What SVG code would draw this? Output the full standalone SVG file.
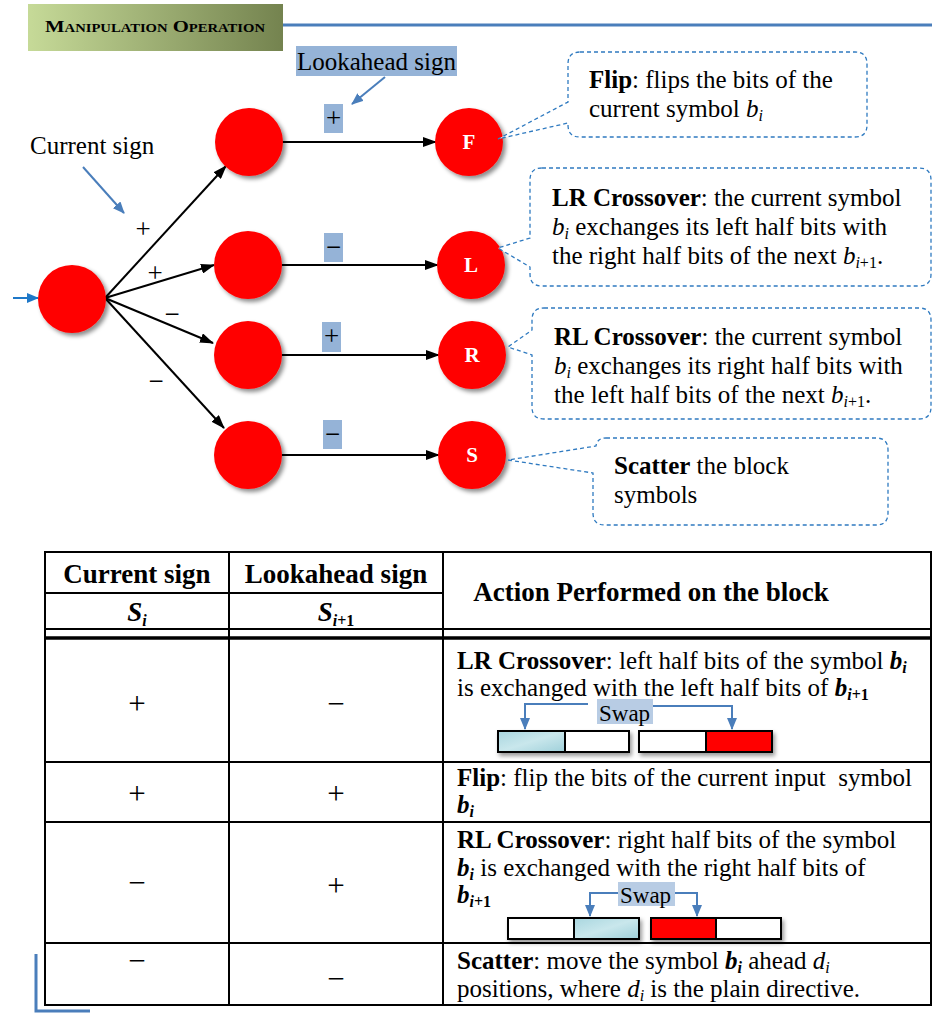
<svg xmlns="http://www.w3.org/2000/svg" width="932" height="1013" viewBox="0 0 932 1013">
  <defs>
    <linearGradient id="hdrGrad" x1="0" y1="0" x2="1" y2="0">
      <stop offset="0" stop-color="#c6da98"/>
      <stop offset="1" stop-color="#74834f"/>
    </linearGradient>
    <linearGradient id="iceGrad" x1="0" y1="0" x2="1" y2="1">
      <stop offset="0" stop-color="#a9d6df"/>
      <stop offset="0.5" stop-color="#c9e7ec"/>
      <stop offset="1" stop-color="#9fd0da"/>
    </linearGradient>
    <filter id="shadow" x="-30%" y="-30%" width="170%" height="170%">
      <feDropShadow dx="3" dy="3" stdDeviation="2.2" flood-color="#000" flood-opacity="0.45"/>
    </filter>
    <filter id="boxShadow" x="-10%" y="-30%" width="130%" height="190%">
      <feDropShadow dx="2" dy="3" stdDeviation="2" flood-color="#000" flood-opacity="0.4"/>
    </filter>
    <marker id="arrowBlack" viewBox="0 0 14 10" refX="13" refY="5" markerWidth="14" markerHeight="10" markerUnits="userSpaceOnUse" orient="auto">
      <path d="M0,0 L14,5 L0,10 Z" fill="#000"/>
    </marker>
    <marker id="arrowBlue" viewBox="0 0 12 10" refX="11" refY="5" markerWidth="12" markerHeight="10" markerUnits="userSpaceOnUse" orient="auto">
      <path d="M0,0 L12,5 L0,10 Z" fill="#4a7ebb"/>
    </marker>
    <marker id="arrowInput" viewBox="0 0 12 10" refX="11" refY="5" markerWidth="12" markerHeight="10" markerUnits="userSpaceOnUse" orient="auto">
      <path d="M0,0 L12,5 L0,10 Z" fill="#1f78c8"/>
    </marker>
  </defs>
  <style>
    .serif { font-family: "Liberation Serif", "Times New Roman", serif; fill: #000; }
    .lbl { font-size: 25px; }
    .sign { font-size: 31px; }
    .body { font-size: 25px; }
    .head { font-size: 27px; }
    .bold { font-weight: bold; }
    .it { font-style: italic; }
    .sub { font-size: 16px; }
    .node { fill: #ff0000; filter: url(#shadow); }
    .nodeTxt { font-family: "Liberation Serif", serif; font-weight: bold; font-size: 21px; fill: #fff; text-anchor: middle; }
    .edge { stroke: #000; stroke-width: 2; fill: none; marker-end: url(#arrowBlack); }
    .hl { fill: #95b3d7; }
    .hlSoft { fill: #b8cce4; }
    .callout { fill: #fff; stroke: #2f7ac0; stroke-width: 1.3; stroke-dasharray: 4 3; }
    .grid { stroke: #000; stroke-width: 2; fill: none; }
    .swapLine { stroke: #4a7ebb; stroke-width: 2; fill: none; marker-end: url(#arrowBlue); }
    .cell { stroke: #000; stroke-width: 2; }
  </style>

  <!-- section header -->
  <g id="header">
    <rect x="28" y="4" width="255" height="47" fill="url(#hdrGrad)"/>
    <text x="45" y="32" class="serif bold" font-size="17" font-variant="small-caps" textLength="220" lengthAdjust="spacingAndGlyphs">Manipulation Operation</text>
    <line x1="283" y1="25" x2="932" y2="25" stroke="#4a7ebb" stroke-width="3"/>
  </g>

  <!-- annotations -->
  <g id="lookahead-label">
    <rect class="hl" x="296" y="46" width="161" height="30"/>
    <text x="297" y="70" class="serif lbl">Lookahead sign</text>
    <line x1="385" y1="77" x2="352" y2="104" stroke="#4a7ebb" stroke-width="2" marker-end="url(#arrowBlue)"/>
  </g>
  <g id="current-label">
    <text x="30" y="154" class="serif lbl">Current sign</text>
    <line x1="83" y1="167" x2="124" y2="213" stroke="#4a7ebb" stroke-width="2" marker-end="url(#arrowBlue)"/>
  </g>

  <!-- connectors -->
  <g id="connectors">
    <line x1="13" y1="298" x2="38" y2="298" stroke="#1f78c8" stroke-width="2" marker-end="url(#arrowInput)"/>
    <line class="edge" x1="105" y1="298" x2="226" y2="166"/>
    <line class="edge" x1="105" y1="298" x2="214" y2="265"/>
    <line class="edge" x1="105" y1="298" x2="213" y2="343"/>
    <line class="edge" x1="105" y1="298" x2="224" y2="428"/>
    <line class="edge" x1="282" y1="142" x2="436" y2="142"/>
    <line class="edge" x1="282" y1="265" x2="438" y2="265"/>
    <line class="edge" x1="282" y1="355" x2="439" y2="355"/>
    <line class="edge" x1="282" y1="455" x2="439" y2="455"/>
  </g>

  <!-- edge sign labels -->
  <g id="edge-labels">
    <text x="143" y="238" class="serif" font-size="27" text-anchor="middle">+</text>
    <text x="155" y="282" class="serif" font-size="27" text-anchor="middle">+</text>
    <text x="172" y="323" class="serif" font-size="27" text-anchor="middle">−</text>
    <text x="156" y="390" class="serif" font-size="27" text-anchor="middle">−</text>
    <rect class="hl" x="324" y="104" width="19" height="29"/>
    <text x="333.5" y="127" class="serif" font-size="27" text-anchor="middle">+</text>
    <rect class="hl" x="324" y="233" width="19" height="29"/>
    <text x="333.5" y="256" class="serif" font-size="27" text-anchor="middle">−</text>
    <rect class="hl" x="322" y="322" width="19" height="30"/>
    <text x="331.5" y="345" class="serif" font-size="27" text-anchor="middle">+</text>
    <rect class="hl" x="323" y="420" width="19" height="29"/>
    <text x="332.5" y="443" class="serif" font-size="27" text-anchor="middle">−</text>
  </g>

  <!-- nodes -->
  <g id="node-source"><circle class="node" cx="72" cy="299" r="34"/></g>
  <g id="node-a"><circle class="node" cx="249" cy="142" r="34"/></g>
  <g id="node-b"><circle class="node" cx="248" cy="265" r="34"/></g>
  <g id="node-c"><circle class="node" cx="248" cy="355" r="34"/></g>
  <g id="node-d"><circle class="node" cx="248" cy="455" r="34"/></g>
  <g id="node-F"><circle class="node" cx="469" cy="142" r="34"/><text class="nodeTxt" x="469" y="149">F</text></g>
  <g id="node-L"><circle class="node" cx="471" cy="265" r="34"/><text class="nodeTxt" x="471" y="272">L</text></g>
  <g id="node-R"><circle class="node" cx="472" cy="355" r="34"/><text class="nodeTxt" x="472" y="362">R</text></g>
  <g id="node-S"><circle class="node" cx="472" cy="455" r="34"/><text class="nodeTxt" x="472" y="462">S</text></g>

  <!-- callouts -->
  <g id="callout-flip">
    <path class="callout" d="M580,52 H855 Q867,52 867,64 V125 Q867,137 855,137 H580 Q568,137 568,125 V123 L498,139 L568,102 V64 Q568,52 580,52 Z"/>
    <text x="589" y="88" class="serif lbl"><tspan class="bold">Flip</tspan>: flips the bits of the</text>
    <text x="589" y="117" class="serif lbl">current symbol <tspan class="it">b</tspan><tspan class="it sub" dy="4">i</tspan></text>
  </g>
  <g id="callout-lr">
    <path class="callout" d="M542,168 H919 Q931,168 931,180 V274 Q931,286 919,286 H542 Q530,286 530,274 V267 L498,248 L530,238 V180 Q530,168 542,168 Z"/>
    <text x="552" y="206" class="serif lbl"><tspan class="bold">LR Crossover</tspan>: the current symbol</text>
    <text x="552" y="235" class="serif lbl"><tspan class="it">b</tspan><tspan class="it sub" dy="4">i</tspan><tspan dy="-4"> exchanges its left half bits with</tspan></text>
    <text x="552" y="264" class="serif lbl">the right half bits of the next <tspan class="it">b</tspan><tspan class="it sub" dy="4">i</tspan><tspan class="sub">+1</tspan><tspan dy="-4">.</tspan></text>
  </g>
  <g id="callout-rl">
    <path class="callout" d="M544,308 H919 Q931,308 931,320 V407 Q931,419 919,419 H544 Q532,419 532,407 V355 L508,347 L532,330 V320 Q532,308 544,308 Z"/>
    <text x="554" y="345" class="serif lbl"><tspan class="bold">RL Crossover</tspan>: the current symbol</text>
    <text x="554" y="374" class="serif lbl"><tspan class="it">b</tspan><tspan class="it sub" dy="4">i</tspan><tspan dy="-4"> exchanges its right half bits with</tspan></text>
    <text x="554" y="403" class="serif lbl">the left half bits of the next <tspan class="it">b</tspan><tspan class="it sub" dy="4">i</tspan><tspan class="sub">+1</tspan><tspan dy="-4">.</tspan></text>
  </g>
  <g id="callout-scatter">
    <path class="callout" d="M606,438 H876 Q888,438 888,450 V513 Q888,525 876,525 H605 Q593,525 593,513 V473 L508,460 L596,446 Q597,438 606,438 Z"/>
    <text x="614" y="474" class="serif lbl"><tspan class="bold">Scatter</tspan> the block</text>
    <text x="614" y="503" class="serif lbl">symbols</text>
  </g>

  <!-- operation table -->
  <g id="table">
    <rect class="grid" x="45" y="552" width="886" height="453"/>
    <line class="grid" x1="229" y1="552" x2="229" y2="1005"/>
    <line class="grid" x1="443" y1="552" x2="443" y2="1005"/>
    <line class="grid" x1="45" y1="593" x2="443" y2="593"/>
    <line class="grid" x1="45" y1="629" x2="931" y2="629"/>
    <line x1="45" y1="638" x2="931" y2="638" stroke="#000" stroke-width="3.5"/>
    <line class="grid" x1="45" y1="762" x2="931" y2="762"/>
    <line class="grid" x1="45" y1="822" x2="931" y2="822"/>
    <line class="grid" x1="45" y1="943" x2="931" y2="943"/>

    <text x="137" y="583" class="serif head bold" text-anchor="middle">Current sign</text>
    <text x="336" y="583" class="serif head bold" text-anchor="middle">Lookahead sign</text>
    <text x="137" y="621" class="serif head bold it" text-anchor="middle">S<tspan class="sub" dy="5">i</tspan></text>
    <text x="336" y="621" class="serif head bold it" text-anchor="middle">S<tspan class="sub" dy="5">i</tspan><tspan class="sub" font-style="normal">+1</tspan></text>
    <text x="651" y="601" class="serif head bold" text-anchor="middle">Action Performed on the block</text>

    <!-- sign columns -->
    <text x="137" y="714" class="serif sign" text-anchor="middle">+</text>
    <text x="336" y="714" class="serif sign" text-anchor="middle">−</text>
    <text x="137" y="804" class="serif sign" text-anchor="middle">+</text>
    <text x="336" y="804" class="serif sign" text-anchor="middle">+</text>
    <text x="137" y="893" class="serif sign" text-anchor="middle">−</text>
    <text x="336" y="896" class="serif sign" text-anchor="middle">+</text>
    <text x="137" y="971" class="serif sign" text-anchor="middle">−</text>
    <text x="336" y="989" class="serif sign" text-anchor="middle">−</text>

    <!-- row: LR crossover -->
    <text x="457" y="669" class="serif body"><tspan class="bold">LR Crossover</tspan>: left half bits of the symbol <tspan class="bold it">b</tspan><tspan class="bold it sub" dy="4">i</tspan></text>
    <text x="457" y="696" class="serif body">is exchanged with the left half bits of <tspan class="bold it">b</tspan><tspan class="bold it sub" dy="4">i</tspan><tspan class="bold sub">+1</tspan></text>
    <rect class="hlSoft" x="597" y="699" width="56" height="25"/>
    <text x="599" y="721" class="serif" font-size="23">Swap</text>
    <polyline class="swapLine" points="588,704 525,704 525,729"/>
    <polyline class="swapLine" points="653,706 732,706 732,729"/>
    <g filter="url(#boxShadow)">
      <rect class="cell" x="498" y="731" width="67" height="21" fill="url(#iceGrad)"/>
      <rect class="cell" x="565" y="731" width="64" height="21" fill="#fff"/>
      <rect class="cell" x="639" y="731" width="67" height="21" fill="#fff"/>
      <rect class="cell" x="706" y="731" width="66" height="21" fill="#ff0000"/>
    </g>

    <!-- row: flip -->
    <text x="457" y="786" class="serif body" xml:space="preserve"><tspan class="bold">Flip</tspan>: flip the bits of the current input  symbol</text>
    <text x="457" y="813" class="serif body bold it">b<tspan class="sub" dy="4">i</tspan></text>

    <!-- row: RL crossover -->
    <text x="457" y="848" class="serif body"><tspan class="bold">RL Crossover</tspan>: right half bits of the symbol</text>
    <text x="457" y="876" class="serif body"><tspan class="bold it">b</tspan><tspan class="bold it sub" dy="4">i</tspan><tspan dy="-4"> is exchanged with the right half bits of</tspan></text>
    <text x="457" y="903" class="serif body bold it">b<tspan class="sub" dy="4">i</tspan><tspan class="sub" font-style="normal">+1</tspan></text>
    <rect class="hlSoft" x="618" y="882" width="57" height="24"/>
    <text x="620" y="903" class="serif" font-size="23">Swap</text>
    <polyline class="swapLine" points="618,893 590,893 590,916"/>
    <polyline class="swapLine" points="675,893 697,893 697,916"/>
    <g filter="url(#boxShadow)">
      <rect class="cell" x="508" y="918" width="66" height="21" fill="#fff"/>
      <rect class="cell" x="574" y="918" width="65" height="21" fill="url(#iceGrad)"/>
      <rect class="cell" x="651" y="918" width="65" height="21" fill="#ff0000"/>
      <rect class="cell" x="716" y="918" width="65" height="21" fill="#fff"/>
    </g>

    <!-- row: scatter -->
    <text x="457" y="969" class="serif body"><tspan class="bold">Scatter</tspan>: move the symbol <tspan class="bold it">b</tspan><tspan class="bold it sub" dy="4">i</tspan><tspan dy="-4"> ahead </tspan><tspan class="it">d</tspan><tspan class="it sub" dy="4">i</tspan></text>
    <text x="457" y="997" class="serif body">positions, where <tspan class="it">d</tspan><tspan class="it sub" dy="4">i</tspan><tspan dy="-4"> is the plain directive.</tspan></text>
  </g>

  <!-- page corner mark -->
  <g id="corner-mark">
    <polyline points="36,954 36,1011 90,1011" fill="none" stroke="#4a7ebb" stroke-width="3"/>
  </g>
</svg>
